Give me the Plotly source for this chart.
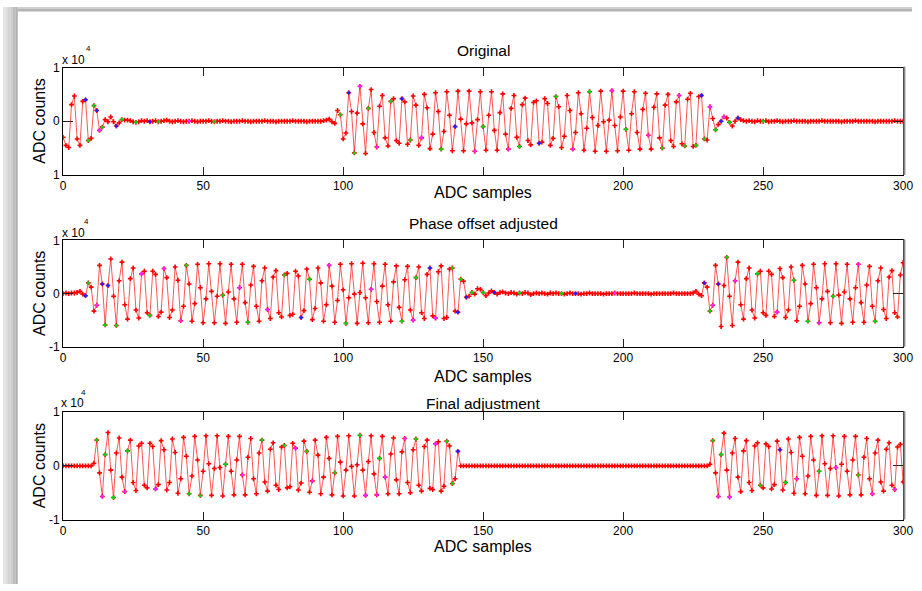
import plotly.graph_objects as go

W, H = 922, 591

# ---------------- data (units of 1e4 ADC counts), sample index = list position ----------------
orig = [
    # s0-21
    -0.30, -0.45, -0.49, 0.31, 0.47, -0.33, -0.45, 0.37, 0.40, -0.36,
    -0.32, 0.29, 0.20, -0.17, -0.11, 0.03, -0.01, 0.08, -0.01, -0.09,
    -0.03, 0.03,
    # s22-92
    0.02, 0.02, 0.01, -0.01, -0.02, -0.01, 0.01, 0.00, 0.01, -0.01,
    0.00, 0.01, -0.01, 0.00, 0.01, 0.02, 0.00, -0.01, 0.00, 0.01,
    0.00, -0.01, 0.00, 0.00, 0.01, 0.00, -0.01, 0.00, 0.00, 0.00,
    0.01, 0.00, -0.01, 0.00, 0.00, 0.01, 0.00, 0.00, -0.01, 0.00,
    0.00, 0.00, 0.01, 0.00, 0.00, -0.01, 0.00, 0.00, 0.00, 0.00,
    0.01, 0.00, 0.00, 0.00, -0.01, 0.00, 0.00, 0.00, 0.00, 0.00,
    0.01, 0.00, 0.00, 0.00, 0.00, -0.01, 0.00, 0.00, 0.00, 0.00,
    0.00,
    # s93-110
    0.01, 0.02, 0.04, -0.01, -0.04, 0.20, 0.12, -0.33, -0.22,
    0.53, 0.18, -0.59, 0.15, 0.65, -0.05, -0.60, 0.24, 0.59,
    # s111-231
    -0.21, -0.48, 0.28, 0.48, -0.31, -0.46, 0.37, 0.42, -0.36, -0.41,
    0.42, 0.36, -0.43, -0.35, 0.47, 0.30, -0.45, -0.31, 0.50, 0.25,
    -0.51, -0.24, 0.53, 0.18, -0.52, -0.19, 0.55, 0.11, -0.55, -0.10,
    0.56, 0.04, -0.55, -0.05, 0.56, -0.03, -0.56, 0.03, 0.55, -0.10,
    -0.54, 0.11, 0.55, -0.17, -0.54, 0.16, 0.51, -0.24, -0.52, 0.24,
    0.48, -0.30, -0.47, 0.31, 0.43, -0.36, -0.44, 0.35, 0.38, -0.41,
    -0.39, 0.42, 0.33, -0.45, -0.32, 0.46, 0.27, -0.49, -0.28, 0.48,
    0.20, -0.52, -0.21, 0.53, 0.14, -0.54, -0.13, 0.55, 0.07, -0.56,
    -0.08, 0.56, -0.01, -0.56, 0.02, 0.57, -0.08, -0.55, 0.08, 0.56,
    -0.15, -0.54, 0.14, 0.55, -0.21, -0.52, 0.22, 0.52, -0.26, -0.52,
    0.26, 0.51, -0.31, -0.50, 0.30, 0.50, -0.36, -0.47, 0.36, 0.48,
    -0.42, -0.46, 0.41, 0.52, -0.47, -0.45, 0.46, 0.48, -0.33, -0.35, 0.27,
    # s232-244
    0.05, -0.16, -0.06, 0.00, 0.08, 0.06, -0.02, -0.09, 0.00, 0.06, 0.03, 0.01, 0.00,
    # s245-300
    0.01, 0.00, -0.01, 0.01, 0.00, 0.00, 0.01, -0.01, 0.00, 0.00,
    0.01, 0.00, -0.01, 0.00, 0.00, 0.00, 0.01, 0.00, 0.00, 0.00,
    0.00, -0.01, 0.00, 0.00, 0.00, 0.00, 0.01, 0.00, 0.00, 0.00,
    0.00, 0.00, 0.00, -0.01, 0.00, 0.00, 0.00, 0.00, 0.01, 0.00,
    0.00, 0.00, 0.00, 0.00, 0.00, -0.01, 0.00, 0.00, 0.00, 0.00,
    0.00, 0.00, 0.01, 0.00, 0.00, 0.00,
]

phase_adj = [
    # s0-21
    0.00, 0.01, 0.00, 0.01, 0.01, 0.02, 0.04, -0.01, -0.04, 0.20,
    0.12, -0.33, -0.22, 0.53, 0.18, -0.59, 0.15, 0.65, -0.05, -0.60,
    0.24, 0.59,
    # s22-142
    -0.21, -0.48, 0.28, 0.48, -0.31, -0.46, 0.37, 0.42, -0.36, -0.41,
    0.42, 0.36, -0.43, -0.35, 0.47, 0.30, -0.45, -0.31, 0.50, 0.25,
    -0.51, -0.24, 0.53, 0.18, -0.52, -0.19, 0.55, 0.11, -0.55, -0.10,
    0.56, 0.04, -0.55, -0.05, 0.56, -0.03, -0.56, 0.03, 0.55, -0.10,
    -0.54, 0.11, 0.55, -0.17, -0.54, 0.16, 0.51, -0.24, -0.52, 0.24,
    0.48, -0.30, -0.47, 0.31, 0.43, -0.36, -0.44, 0.35, 0.38, -0.41,
    -0.39, 0.42, 0.33, -0.45, -0.32, 0.46, 0.27, -0.49, -0.28, 0.48,
    0.20, -0.52, -0.21, 0.53, 0.14, -0.54, -0.13, 0.55, 0.07, -0.56,
    -0.08, 0.56, -0.01, -0.56, 0.02, 0.57, -0.08, -0.55, 0.08, 0.56,
    -0.15, -0.54, 0.14, 0.55, -0.21, -0.52, 0.22, 0.52, -0.26, -0.52,
    0.26, 0.51, -0.31, -0.50, 0.30, 0.50, -0.36, -0.47, 0.36, 0.48,
    -0.42, -0.46, 0.41, 0.52, -0.47, -0.45, 0.46, 0.48, -0.33, -0.35, 0.27,
    # s143-155
    0.23, -0.07, -0.05, 0.02, -0.01, 0.09, 0.08, 0.02, -0.04, 0.01, 0.05, 0.02, -0.01,
    # s156-225
    0.02, 0.03, 0.01, 0.00, 0.02, 0.01, -0.01, 0.01, 0.00, 0.02,
    0.01, -0.02, 0.00, 0.01, 0.00, 0.01, 0.00, -0.01, 0.01, 0.00,
    0.01, 0.00, 0.00, -0.01, 0.00, 0.01, 0.00, 0.00, 0.00, -0.01,
    0.00, 0.00, 0.01, 0.00, 0.00, 0.00, 0.00, -0.01, 0.00, 0.00,
    0.00, 0.01, 0.00, 0.00, 0.00, 0.00, 0.00, 0.00, 0.01, 0.00,
    0.00, 0.00, 0.00, 0.00, -0.01, 0.00, 0.00, 0.00, 0.00, 0.00,
    0.00, 0.00, 0.01, 0.00, 0.00, 0.00, 0.00, 0.00, 0.00, 0.01,
    # s226-300
    0.04, -0.01, -0.04, 0.20, 0.12, -0.33, -0.22, 0.53, 0.18, -0.62,
    0.15, 0.68, -0.05, -0.60, 0.24, 0.59, -0.21, -0.48, 0.28, 0.48,
    -0.31, -0.46, 0.37, 0.42, -0.36, -0.41, 0.42, 0.36, -0.43, -0.35,
    0.47, 0.30, -0.45, -0.31, 0.50, 0.25, -0.51, -0.24, 0.53, 0.18,
    -0.52, -0.19, 0.55, 0.11, -0.55, -0.10, 0.56, 0.04, -0.55, -0.05,
    0.56, -0.03, -0.56, 0.03, 0.55, -0.10, -0.54, 0.11, 0.55, -0.17,
    -0.54, 0.16, 0.51, -0.24, -0.52, 0.24, 0.48, -0.30, -0.47, 0.31,
    0.43, -0.36, -0.44, 0.35, 0.58,
]

final_adj = [
    # s0-10
    0, 0, 0, 0, 0, 0, 0, 0, 0, 0, 0,
    # s11-141
    0.05, 0.48, -0.13, -0.57, 0.21, 0.62, -0.08, -0.59, 0.24, 0.52,
    -0.21, -0.48, 0.28, 0.48, -0.31, -0.46, 0.37, 0.42, -0.36, -0.41,
    0.42, 0.36, -0.43, -0.35, 0.47, 0.30, -0.45, -0.31, 0.50, 0.25,
    -0.51, -0.24, 0.53, 0.18, -0.52, -0.19, 0.55, 0.11, -0.55, -0.10,
    0.56, 0.04, -0.55, -0.05, 0.56, -0.03, -0.56, 0.03, 0.55, -0.10,
    -0.54, 0.11, 0.55, -0.17, -0.54, 0.16, 0.51, -0.24, -0.52, 0.24,
    0.48, -0.30, -0.47, 0.31, 0.43, -0.36, -0.44, 0.35, 0.38, -0.41,
    -0.39, 0.42, 0.33, -0.45, -0.32, 0.46, 0.27, -0.49, -0.28, 0.48,
    0.20, -0.52, -0.21, 0.53, 0.14, -0.54, -0.13, 0.55, 0.07, -0.56,
    -0.08, 0.56, -0.01, -0.56, 0.02, 0.57, -0.08, -0.55, 0.08, 0.56,
    -0.15, -0.54, 0.14, 0.55, -0.21, -0.52, 0.22, 0.52, -0.26, -0.52,
    0.26, 0.51, -0.31, -0.50, 0.30, 0.50, -0.36, -0.47, 0.36, 0.48,
    -0.42, -0.44, 0.41, 0.45, -0.47, -0.38, 0.46, 0.37, -0.33, -0.24, 0.27,
    # s142-230
    0, 0, 0, 0, 0, 0, 0, 0, 0, 0, 0, 0, 0, 0, 0, 0, 0, 0, 0, 0,
    0, 0, 0, 0, 0, 0, 0, 0, 0, 0, 0, 0, 0, 0, 0, 0, 0, 0, 0, 0,
    0, 0, 0, 0, 0, 0, 0, 0, 0, 0, 0, 0, 0, 0, 0, 0, 0, 0, 0, 0,
    0, 0, 0, 0, 0, 0, 0, 0, 0, 0, 0, 0, 0, 0, 0, 0, 0, 0, 0, 0,
    0, 0, 0, 0, 0, 0, 0, 0, 0,
    # s231-300
    0.03, 0.47, -0.13, -0.57, 0.21, 0.61, -0.08, -0.58, 0.24, 0.51,
    -0.21, -0.48, 0.28, 0.47, -0.31, -0.46, 0.37, 0.43, -0.36, -0.41,
    0.41, 0.36, -0.43, -0.35, 0.46, 0.30, -0.45, -0.31, 0.50, 0.25,
    -0.51, -0.24, 0.53, 0.18, -0.52, -0.19, 0.55, 0.11, -0.55, -0.10,
    0.56, 0.04, -0.55, -0.05, 0.56, -0.03, -0.56, 0.03, 0.55, -0.10,
    -0.54, 0.11, 0.55, -0.17, -0.54, 0.16, 0.51, -0.24, -0.52, 0.24,
    0.48, -0.30, -0.47, 0.31, 0.43, -0.36, -0.44, 0.35, 0.40, -0.30,
]

# samples highlighted with other marker colours
green_orig = [9, 11, 14, 21, 26, 34, 54, 99, 104, 109, 117, 124, 135, 150, 163, 176, 188, 201, 214, 222, 226, 229, 233, 238, 250]
blue_orig = [8, 12, 19, 31, 102, 121, 140, 170, 228, 235, 241]
magenta_orig = [13, 45, 106, 112, 128, 147, 159, 182, 196, 209, 220, 231, 236]

green_phase = [9, 15, 19, 31, 44, 57, 66, 79, 88, 101, 121, 126, 139, 142, 146, 150, 163, 178, 231, 237, 248, 261, 266, 275, 290]
blue_phase = [8, 14, 16, 85, 131, 141, 144, 154, 183, 229, 234]
magenta_phase = [12, 28, 36, 42, 63, 73, 95, 110, 125, 133, 197, 232, 240, 255, 270, 284]

green_final = [12, 15, 18, 23, 45, 49, 58, 71, 79, 87, 97, 106, 113, 126, 137, 139, 232, 235, 249, 258, 270, 284]
blue_final = [141, 256]
magenta_final = [14, 22, 33, 64, 83, 89, 108, 112, 115, 122, 133, 234, 238, 262, 276, 289, 297]

titles = ["Original", "Phase offset adjusted", "Final adjustment"]
x_label = "ADC samples"
y_label = "ADC counts"
xtick_vals = [0, 50, 100, 150, 200, 250, 300]
# top panel: the "150" label is hidden behind the x-axis title in the reference
xtick_texts = [["0", "50", "100", "", "200", "250", "300"],
               ["0", "50", "100", "150", "200", "250", "300"],
               ["0", "50", "100", "150", "200", "250", "300"]]
ytick_vals = [-1, 0, 1]
ytick_texts = [["1", "0", "1"], ["-1", "0", "1"], ["-1", "0", "1"]]
exponent = "4"

panels = [
    (orig, green_orig, blue_orig, magenta_orig),
    (phase_adj, green_phase, blue_phase, magenta_phase),
    (final_adj, green_final, blue_final, magenta_final),
]

# ---------------- layout geometry (pixels) ----------------
X0, X1 = 61, 913
boxes = [(62, 172), (239, 348), (415, 525)]   # (top, bottom) of each plot area
title_y = [45, 222, 406]
xlabel_y = [190, 378, 553]
exp_pos = [((72, 54), (87, 43)), ((72, 231), (85, 220)), ((71, 406), (82, 395))]


def px(x):
    return x / W


def py(y):
    return 1 - y / H


FONT = "Liberation Sans, Arial, Helvetica, sans-serif"

fig = go.Figure()
layout = dict(
    width=W, height=H, margin=dict(l=0, r=0, t=0, b=0),
    paper_bgcolor="white", plot_bgcolor="white", showlegend=False,
    font=dict(family=FONT, color="black"),
)
annotations = []
shapes = []

for i, (vals, g_idx, b_idx, m_idx) in enumerate(panels):
    n = i + 1
    xa = f"x{n}" if n > 1 else "x"
    ya = f"y{n}" if n > 1 else "y"
    xs = list(range(len(vals)))
    fig.add_trace(go.Scatter(
        x=xs, y=vals, mode="lines+markers", xaxis=xa, yaxis=ya,
        line=dict(color="rgba(255,30,30,0.75)", width=1),
        marker=dict(symbol="cross", size=4, color="#ff0000"),
        hoverinfo="skip"))
    for idx, col in ((g_idx, "#10d010"), (b_idx, "#2020ff"), (m_idx, "#ff20ff")):
        fig.add_trace(go.Scatter(
            x=[xs[k] for k in idx], y=[vals[k] for k in idx], mode="markers",
            xaxis=xa, yaxis=ya,
            marker=dict(symbol="circle", size=3.5, color=col),
            hoverinfo="skip"))

    top, bot = boxes[i]
    layout[f"xaxis{n if n > 1 else ''}"] = dict(
        domain=[px(X0), px(X1)], range=[-0.001, 300.001], anchor=ya,
        tickvals=xtick_vals, ticktext=xtick_texts[i],
        ticks="inside", ticklen=8, tickwidth=1.2, tickcolor="#222",
        showline=True, linecolor="black", linewidth=1, mirror="ticks",
        showgrid=False, zeroline=False, ticklabeloverflow="allow",
        tickfont=dict(size=12, family=FONT, color="black"),
    )
    layout[f"yaxis{n if n > 1 else ''}"] = dict(
        domain=[py(bot), py(top)], range=[-1, 1], anchor=xa,
        tickvals=ytick_vals, ticktext=ytick_texts[i],
        ticks="inside", ticklen=10, tickwidth=1.2, tickcolor="#222",
        showline=True, linecolor="black", linewidth=1, mirror="ticks",
        showgrid=False, zeroline=False,
        tickfont=dict(size=12, family=FONT, color="black"),
    )

    annotations.append(dict(x=px((X0 + X1) / 2), y=py(title_y[i]), xref="paper", yref="paper",
                            text=titles[i], showarrow=False, xanchor="center", yanchor="middle",
                            font=dict(size=15.5, family=FONT)))
    annotations.append(dict(x=px((X0 + X1) / 2), y=py(xlabel_y[i]), xref="paper", yref="paper",
                            text=x_label, showarrow=False, xanchor="center", yanchor="middle",
                            font=dict(size=16, family=FONT)))
    annotations.append(dict(x=px(37), y=py((top + bot) / 2), xref="paper", yref="paper",
                            text=y_label, showarrow=False, xanchor="center", yanchor="middle",
                            textangle=-90, font=dict(size=16, family=FONT)))
    (bx, by), (ex, ey) = exp_pos[i]
    annotations.append(dict(x=px(bx), y=py(by), xref="paper", yref="paper",
                            text="x 10", showarrow=False, xanchor="center", yanchor="middle",
                            font=dict(size=12, family=FONT)))
    annotations.append(dict(x=px(ex), y=py(ey), xref="paper", yref="paper",
                            text=exponent, showarrow=False, xanchor="center", yanchor="middle",
                            font=dict(size=8, family=FONT)))
    # grey right edge of each box
    shapes.append(dict(type="line", xref="paper", yref="paper",
                       x0=px(914.3), x1=px(914.3), y0=py(bot), y1=py(top - 1),
                       line=dict(color="#8a8a8a", width=2)))

# window frame shading: top strip and left gradient
left_cols = ["#e4e4e4", "#dcdcdc", "#d4d4d4", "#cacaca", "#bebebe", "#b2b2b2"]
for j, c in enumerate(left_cols):
    shapes.append(dict(type="rect", xref="paper", yref="paper", layer="below",
                       x0=px(j * 2.5), x1=px((j + 1) * 2.5), y0=0, y1=1,
                       line=dict(width=0), fillcolor=c))
shapes.append(dict(type="rect", xref="paper", yref="paper", layer="below",
                   x0=px(15), x1=1, y0=py(2), y1=1, line=dict(width=0), fillcolor="#cfcfcf"))
shapes.append(dict(type="rect", xref="paper", yref="paper", layer="below",
                   x0=px(15), x1=1, y0=py(4.5), y1=py(2), line=dict(width=0), fillcolor="#b4b4b4"))

layout["annotations"] = annotations
layout["shapes"] = shapes
fig.update_layout(**layout)
fig.write_html("out.html")
